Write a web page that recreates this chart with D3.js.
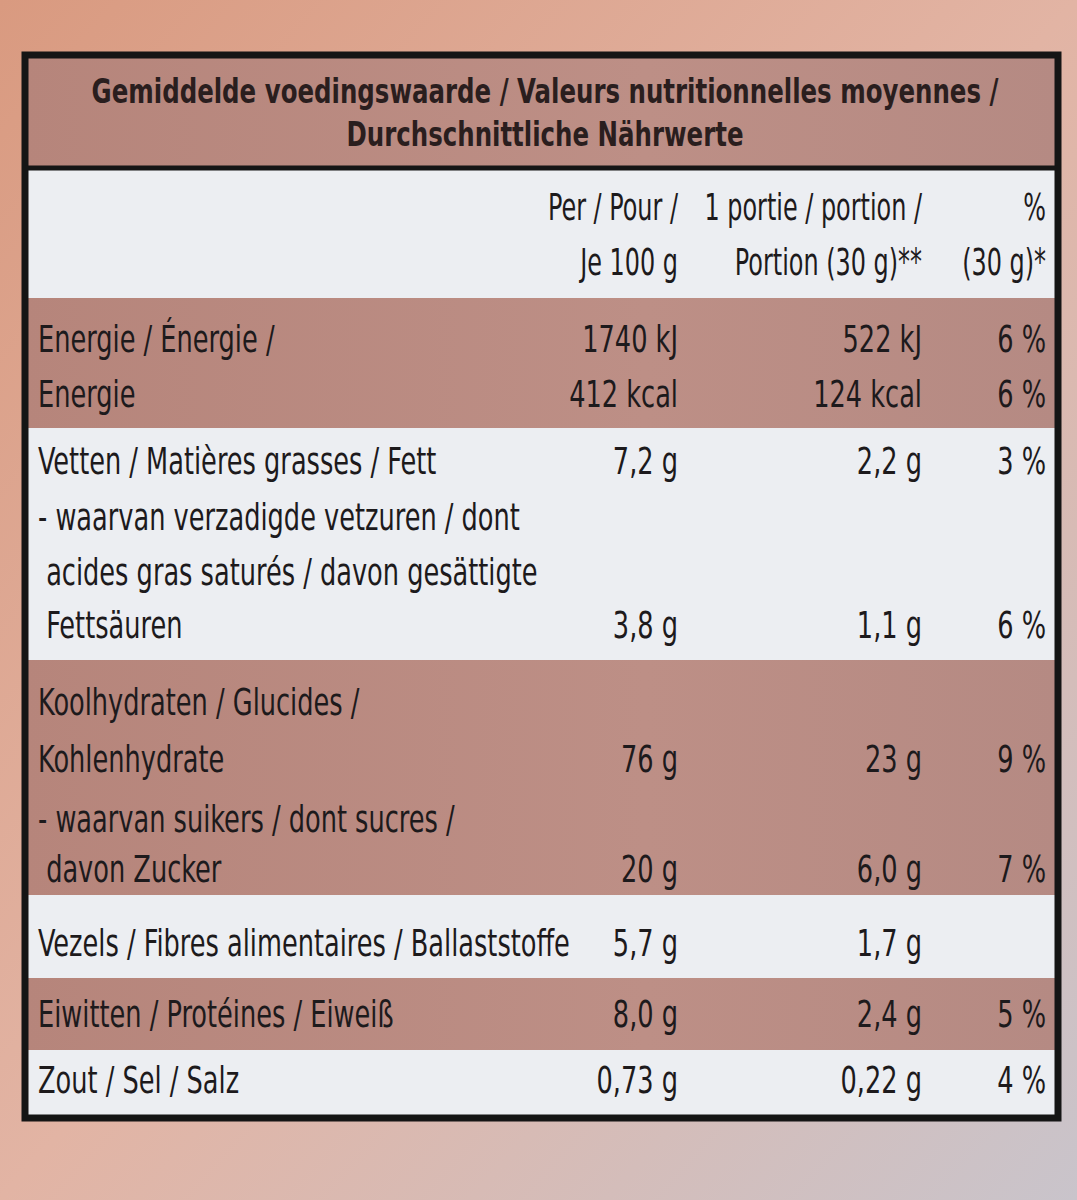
<!DOCTYPE html>
<html><head><meta charset="utf-8">
<script src="https://cdn.jsdelivr.net/npm/d3@7"></script>
<style>body{margin:0;background:#ddd}</style>
</head><body>
<script>
var W = 1077, H = 1200;

// row lines: [label, per100g, perPortion, percent, baselineY]
var labels = ["Energie / Énergie /", "Energie", "Vetten / Matières grasses / Fett",
  "- waarvan verzadigde vetzuren / dont", " acides gras saturés / davon gesättigte", " Fettsäuren",
  "Koolhydraten / Glucides /", "Kohlenhydrate", "- waarvan suikers / dont sucres /", " davon Zucker",
  "Vezels / Fibres alimentaires / Ballaststoffe", "Eiwitten / Protéines / Eiweiß", "Zout / Sel / Salz"];
var per100 = ["1740 kJ", "412 kcal", "7,2 g", "", "", "3,8 g", "", "76 g", "", "20 g", "5,7 g", "8,0 g", "0,73 g"];
var portion = ["522 kJ", "124 kcal", "2,2 g", "", "", "1,1 g", "", "23 g", "", "6,0 g", "1,7 g", "2,4 g", "0,22 g"];
var percent = ["6 %", "6 %", "3 %", "", "", "6 %", "", "9 %", "", "7 %", "", "5 %", "4 %"];
var lineY = [352, 407, 474, 530, 585, 638, 715, 772, 832, 882, 956, 1027, 1093];

// bands: [top, bottom, shaded]
var bands = [[55, 168, 1], [168, 298, 0], [298, 428, 1], [428, 660, 0], [660, 895, 1], [895, 978, 0], [978, 1050, 1], [1050, 1118, 0]];
var title = ["Gemiddelde voedingswaarde / Valeurs nutritionnelles moyennes /", "Durchschnittliche Nährwerte"];
var colHead = [["Per / Pour /", "Je 100 g"], ["1 portie / portion /", "Portion (30 g)**"], ["%", "(30 g)*"]];

var font = "'DejaVu Sans Condensed','DejaVu Sans',sans-serif";
var SX = 0.75;
var svg = d3.select("body").append("svg").attr("width", W).attr("height", H);
var defs = svg.append("defs");
var bg = defs.append("linearGradient").attr("id", "bg").attr("x1", 0).attr("y1", 0).attr("x2", 1).attr("y2", 1);
bg.append("stop").attr("offset", 0).attr("stop-color", "#d99a80");
bg.append("stop").attr("offset", 0.5).attr("stop-color", "#e2b4a4");
bg.append("stop").attr("offset", 1).attr("stop-color", "#c9c4cb");
var sh = defs.append("linearGradient").attr("id", "sh").attr("x1", 0).attr("x2", 1);
sh.append("stop").attr("offset", 0).attr("stop-color", "#b6857b");
sh.append("stop").attr("offset", 0.6).attr("stop-color", "#bd8f86");
sh.append("stop").attr("offset", 1).attr("stop-color", "#b58a83");

svg.append("rect").attr("width", W).attr("height", H).attr("fill", "url(#bg)");

var x0 = 25, x1 = 1058;
svg.selectAll(".band").data(bands).enter().append("rect")
  .attr("x", x0).attr("width", x1 - x0)
  .attr("y", function(d) { return d[0]; })
  .attr("height", function(d) { return d[1] - d[0]; })
  .attr("fill", function(d) { return d[2] ? "url(#sh)" : "#eceef2"; });

svg.append("rect").attr("x", x0).attr("y", 55).attr("width", x1 - x0).attr("height", 1118 - 55)
  .attr("fill", "none").attr("stroke", "#151515").attr("stroke-width", 7);
svg.append("line").attr("x1", x0).attr("x2", x1).attr("y1", 168).attr("y2", 168)
  .attr("stroke", "#151515").attr("stroke-width", 5);

var ink = "#1d1a1c";
function put(sel, x, y, sx) {
  return sel.attr("transform", function(d, i) { return "translate(" + x + "," + y(d, i) + ") scale(" + sx + ",1)"; })
    .attr("font-family", font).attr("fill", ink);
}

put(svg.selectAll(".title").data(title).enter().append("text"), 545,
    function(d, i) { return 103 + i * 43; }, 0.8)
  .attr("text-anchor", "middle").attr("font-weight", "bold").attr("font-size", 34)
  .attr("fill", "#2a1e1e").text(function(d) { return d; });

var colX = [678, 922, 1046];
colHead.forEach(function(c, i) {
  put(svg.selectAll(".ch" + i).data(c).enter().append("text"), colX[i],
      function(d, j) { return 220 + j * 55; }, 0.7)
    .attr("text-anchor", "end").attr("font-size", 38).text(function(d) { return d; });
});

function col(arr, x, anchor) {
  put(svg.append("g").selectAll("text").data(arr).enter().append("text"), x,
      function(d, i) { return lineY[i]; }, SX)
    .attr("text-anchor", anchor).attr("font-size", 38)
    .attr("xml:space", "preserve").text(function(d) { return d; });
}
col(labels, 38, "start");
col(per100, colX[0], "end");
col(portion, colX[1], "end");
col(percent, colX[2], "end");
</script>
</body></html>
